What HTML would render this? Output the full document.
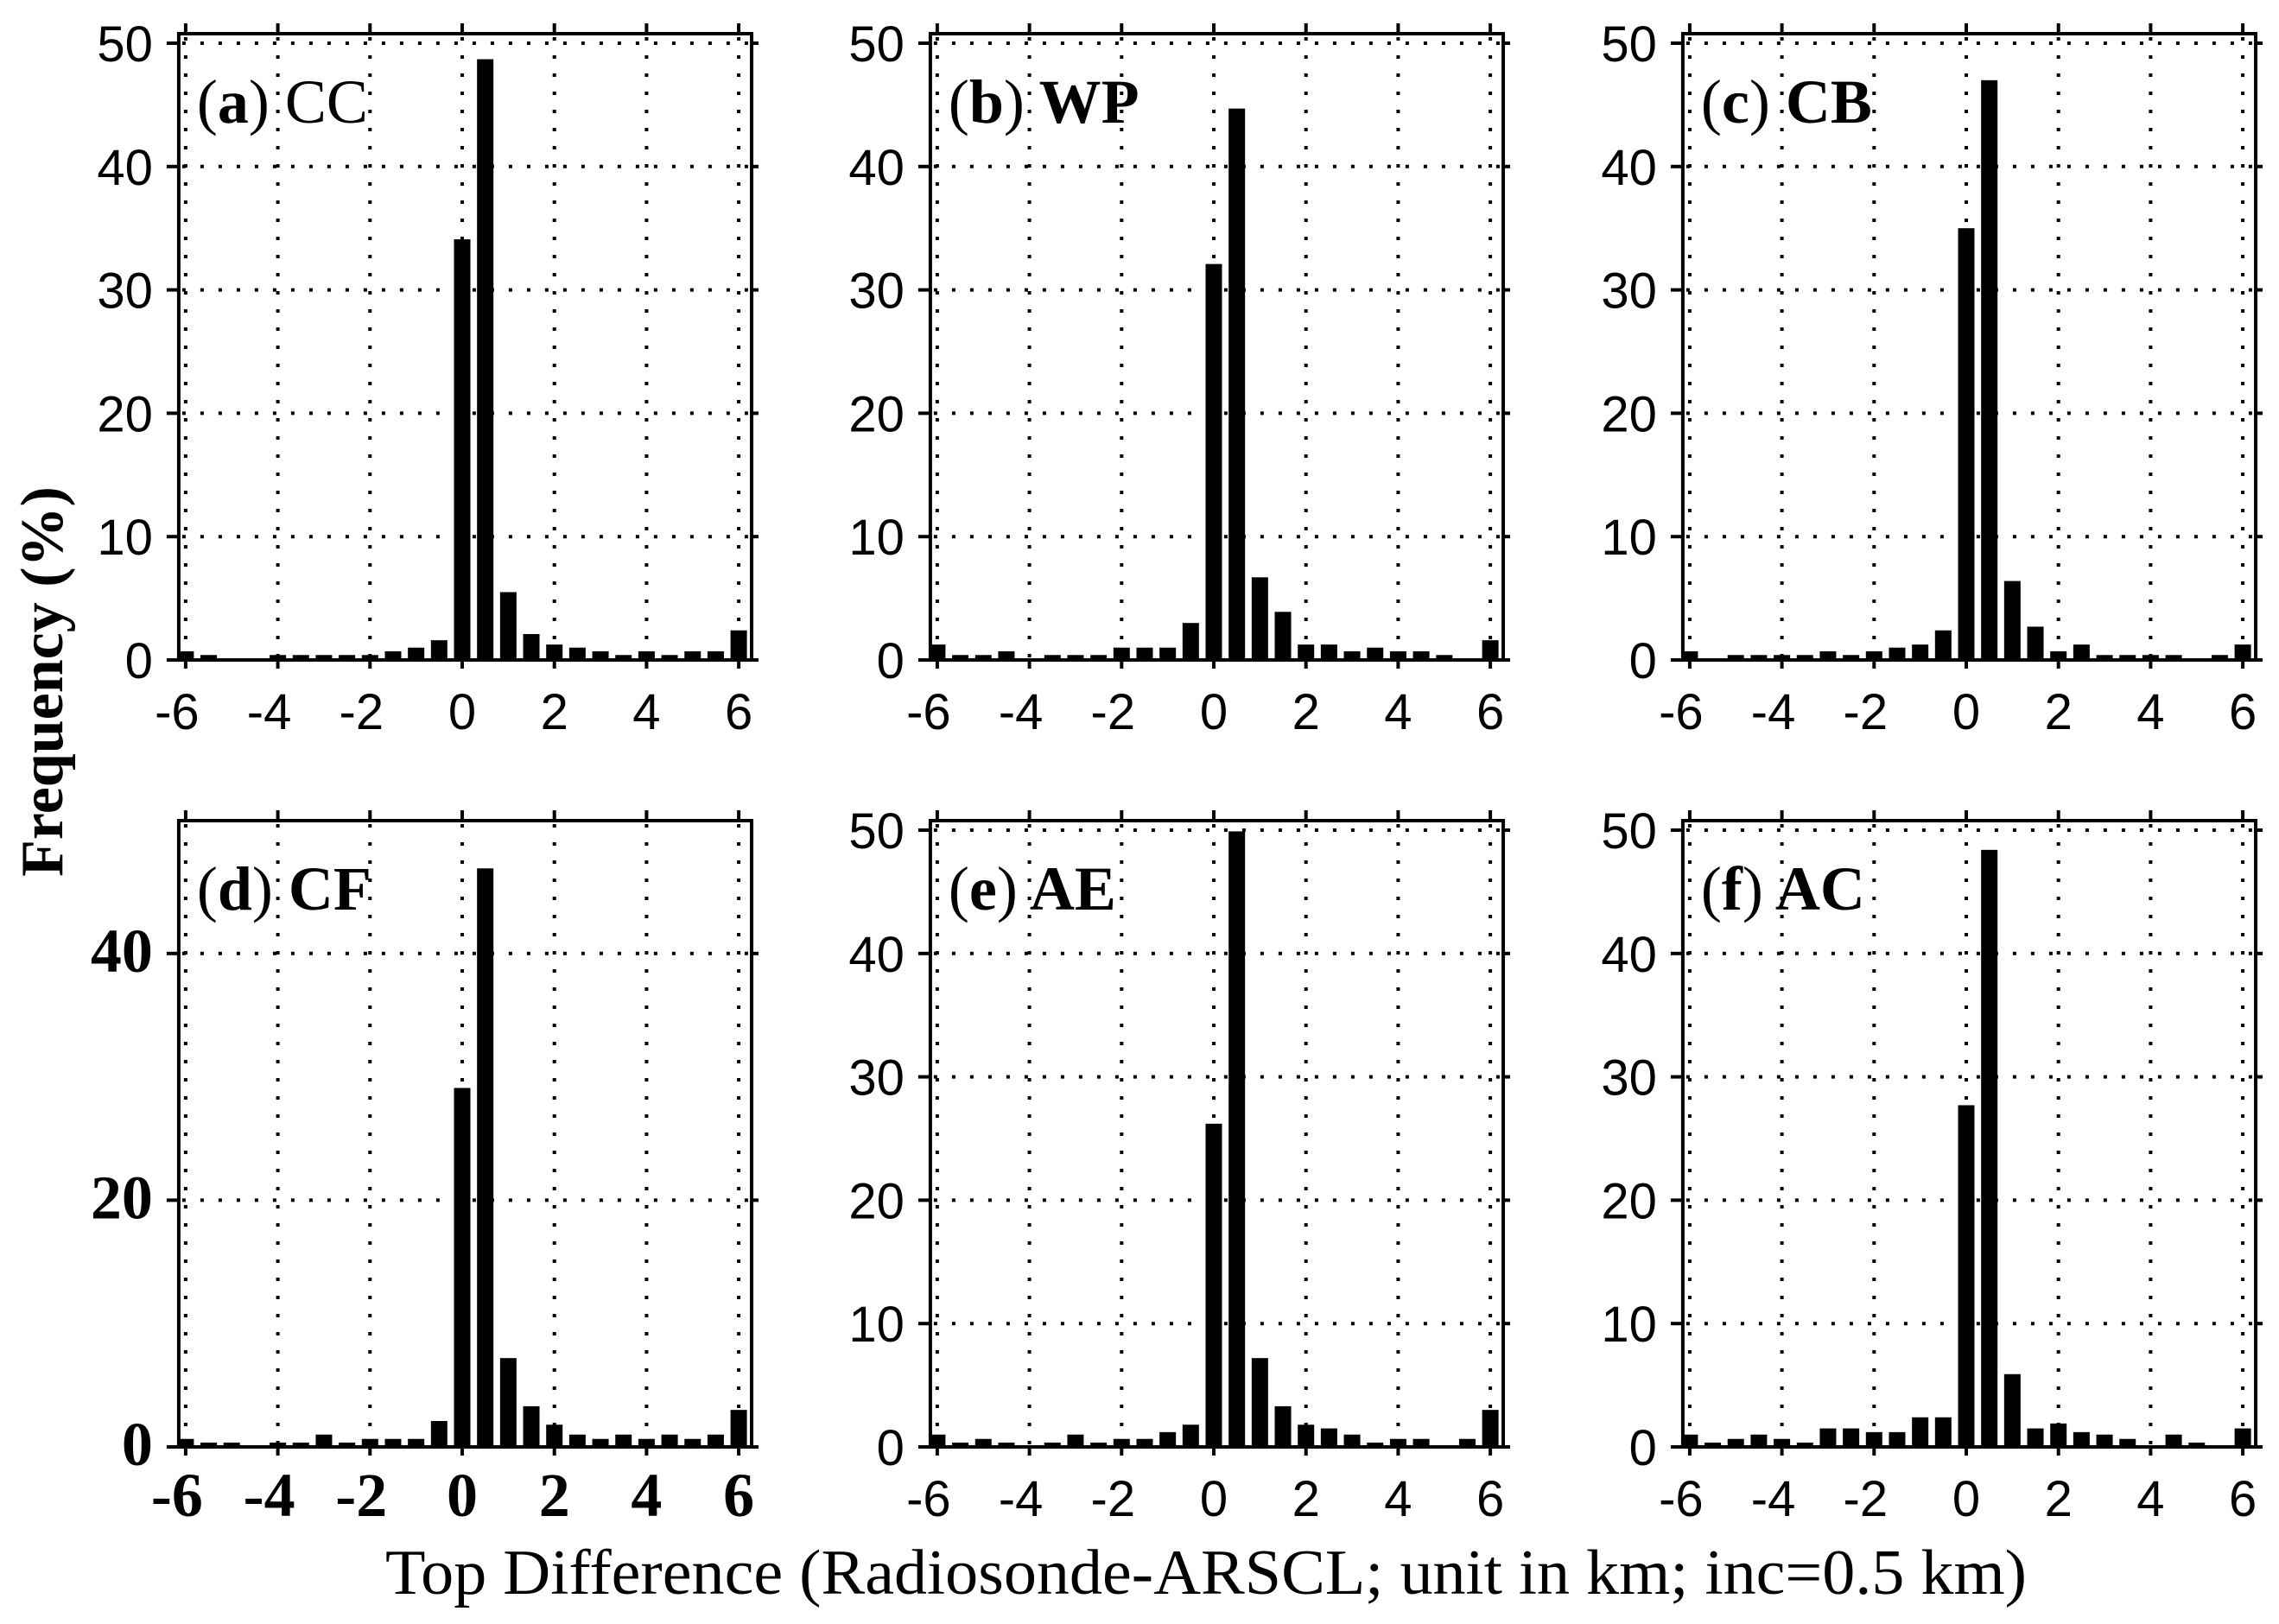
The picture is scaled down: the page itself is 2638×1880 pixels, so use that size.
<!DOCTYPE html>
<html><head><meta charset="utf-8"><style>
html,body{margin:0;padding:0;background:#fff;}
svg{display:block;}
</style></head><body>
<svg id="chart" xmlns="http://www.w3.org/2000/svg" width="2638" height="1880" viewBox="0 0 2638 1880">
<rect x="0" y="0" width="2638" height="1880" fill="#fff"/>
<text transform="translate(72,789) rotate(-90)" text-anchor="middle" font-family="Liberation Serif, serif" font-weight="bold" font-size="70">Frequency (%)</text>
<text x="446" y="1845" textLength="1900" lengthAdjust="spacingAndGlyphs" font-family="Liberation Serif, serif" font-weight="normal" font-size="74">Top Difference (Radiosonde-ARSCL; unit in km; inc=0.5 km)</text>
</svg>
<script>
const bins = [-6,-5.5,-5,-4.5,-4,-3.5,-3,-2.5,-2,-1.5,-1,-0.5,0,0.5,1,1.5,2,2.5,3,3.5,4,4.5,5,5.5,6];
const xTicks = [-6,-4,-2,0,2,4,6];
const yTicksFull = [0,10,20,30,40,50];
const yTicksD = [0,20,40];
const seriesA = [0.7,0.4,0,0,0.4,0.4,0.4,0.4,0.4,0.7,1.0,1.6,34.1,48.7,5.5,2.1,1.25,1.0,0.7,0.4,0.7,0.4,0.7,0.7,2.4];
const seriesB = [1.25,0.4,0.4,0.7,0,0.4,0.4,0.4,1.0,1.0,1.0,3.0,32.1,44.7,6.7,3.9,1.25,1.25,0.7,1.0,0.7,0.7,0.4,0,1.6];
const seriesC = [0.7,0,0.4,0.4,0.4,0.4,0.7,0.4,0.7,1.0,1.25,2.4,35.0,47.0,6.4,2.7,0.7,1.25,0.4,0.4,0.4,0.4,0,0.4,1.25];
const seriesD = [0.65,0.35,0.35,0,0.35,0.35,1.0,0.35,0.65,0.65,0.65,2.1,29.1,46.9,7.2,3.3,1.8,1.0,0.65,1.0,0.65,1.0,0.65,1.0,3.0];
const seriesE = [1.0,0.35,0.65,0.35,0,0.35,1.0,0.35,0.65,0.65,1.2,1.8,26.2,49.9,7.2,3.3,1.8,1.5,1.0,0.35,0.65,0.65,0,0.65,3.0];
const seriesF = [1.0,0.35,0.65,1.0,0.65,0.35,1.5,1.5,1.2,1.2,2.4,2.4,27.7,48.4,5.9,1.5,1.9,1.2,1.0,0.65,0,1.0,0.35,0,1.5];

const NS = "http://www.w3.org/2000/svg";
const svg = document.getElementById('chart');
function mk(tag, attrs, parent){
  const e = document.createElementNS(NS, tag);
  for (const k in attrs) e.setAttribute(k, attrs[k]);
  (parent||svg).appendChild(e);
  return e;
}
const UNIT_X = 53.35, UNIT_Y = 14.28, YMAX = 50.77;
const panels = [
  {id:'a', x0:535, y0:764, data:seriesA, yt:yTicksFull, bold:false, l1:'(', l2:'a', l3:')', l4:' CC', b4:false},
  {id:'b', x0:1405, y0:764, data:seriesB, yt:yTicksFull, bold:false, l1:'(', l2:'b', l3:')', l4:' WP', b4:true},
  {id:'c', x0:2276, y0:764, data:seriesC, yt:yTicksFull, bold:false, l1:'(', l2:'c', l3:')', l4:' CB', b4:true},
  {id:'d', x0:535, y0:1675, data:seriesD, yt:yTicksD, bold:true, l1:'(', l2:'d', l3:')', l4:' CF', b4:true},
  {id:'e', x0:1405, y0:1675, data:seriesE, yt:yTicksFull, bold:false, l1:'(', l2:'e', l3:')', l4:' AE', b4:true},
  {id:'f', x0:2276, y0:1675, data:seriesF, yt:yTicksFull, bold:false, l1:'(', l2:'f', l3:')', l4:' AC', b4:true}
];
panels.forEach(p => {
  const sx = v => p.x0 + v*UNIT_X;
  const sy = v => p.y0 - v*UNIT_Y;
  const L = sx(-6.15), R = sx(6.28), T = sy(YMAX), B = sy(0);
  const g = mk('g', {});
  
  
  const cp = mk('clipPath', {id:'clip'+p.id}, g);
  mk('rect', {x:L, y:T, width:R-L, height:B-T}, cp);
  xTicks.forEach(t => {
    const gl = mk('line', {x1:sx(t), x2:sx(t), y1:T+4, y2:B, stroke:'#000', 'stroke-width':4, 'stroke-dasharray':'4 17'}, g);
    
    
  });
  p.yt.forEach(t => {
    if (t === 0) return;
    const gl = mk('line', {x1:L+4, x2:R, y1:sy(t), y2:sy(t), stroke:'#000', 'stroke-width':4, 'stroke-dasharray':'4 17'}, g);
    
    
  });
  const bg = mk('g', {'clip-path':'url(#clip'+p.id+')'}, g);
  bins.forEach((b, i) => {
    const v = p.data[i];
    if (v <= 0) return;
    const r = mk('rect', {x:sx(b)-9.5, y:sy(v), width:19, height:B - sy(v), fill:'#000'}, bg);
    
    
  });
  const fr = mk('rect', {x:L, y:T, width:R-L, height:B-T, fill:'none', stroke:'#000', 'stroke-width':4}, g);
  
  
  const fam = p.bold ? 'Liberation Serif, serif' : 'Liberation Sans, sans-serif';
  const fs = p.bold ? 72 : 58;
  const fw = p.bold ? 'bold' : 'normal';
  xTicks.forEach(t => {
    mk('line', {x1:sx(t), x2:sx(t), y1:T-12, y2:T, stroke:'#000', 'stroke-width':4}, g);
    mk('line', {x1:sx(t), x2:sx(t), y1:B, y2:B+10, stroke:'#000', 'stroke-width':4}, g);
    const tx = mk('text', {x:sx(t) - (t<0 ? 10 : 0), y:B+80, 'text-anchor':'middle', 'font-family':fam, 'font-size':fs, 'font-weight':fw}, g);
    
    
    tx.textContent = String(t);
  });
  p.yt.forEach(t => {
    mk('line', {x1:L-14, x2:L, y1:sy(t), y2:sy(t), stroke:'#000', 'stroke-width':4}, g);
    mk('line', {x1:R, x2:R+8, y1:sy(t), y2:sy(t), stroke:'#000', 'stroke-width':4}, g);
    const ty = mk('text', {x:L-30, y:sy(t)+21, 'text-anchor':'end', 'font-family':fam, 'font-size':fs, 'font-weight':fw}, g);
    
    
    ty.textContent = String(t);
  });
  const lab = mk('text', {x:L+21, y:T+103, 'font-family':'Liberation Serif, serif', 'font-size':72}, g);
  
  
  const s1 = mk('tspan', {}, lab); s1.textContent = p.l1;
  const s2 = mk('tspan', {'font-weight':'bold'}, lab); s2.textContent = p.l2;
  const s3 = mk('tspan', {}, lab); s3.textContent = p.l3;
  const s4 = mk('tspan', {'font-weight': p.b4 ? 'bold' : 'normal'}, lab); s4.textContent = p.l4;
});
</script>
</body></html>
